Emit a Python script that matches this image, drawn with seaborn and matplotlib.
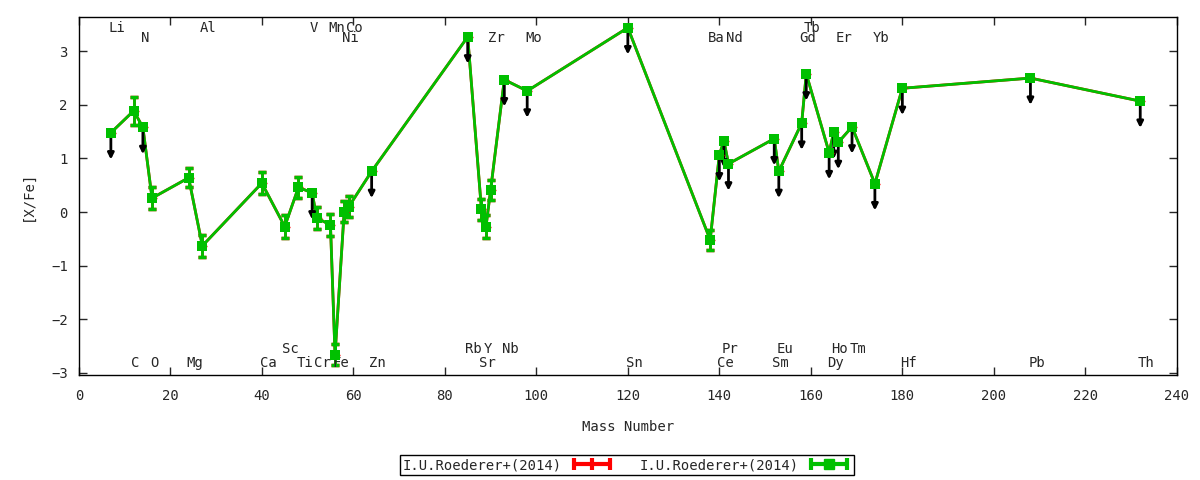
import matplotlib
matplotlib.use('Agg')
import matplotlib.pyplot as plt
import seaborn as sns
from matplotlib.lines import Line2D
from matplotlib.legend_handler import HandlerLine2D

# abundances, sorted by mass number
elements = ['Li', 'C', 'N', 'O', 'Mg', 'Al', 'Ca', 'Sc', 'Ti', 'V', 'Cr', 'Mn', 'Fe',
            'Ni', 'Co', 'Zn', 'Rb', 'Sr', 'Y', 'Zr', 'Nb', 'Mo', 'Sn', 'Ba', 'Ce', 'Pr',
            'Nd', 'Sm', 'Eu', 'Gd', 'Tb', 'Dy', 'Ho', 'Er', 'Tm', 'Yb', 'Hf', 'Pb', 'Th']
mass = [7, 12, 14, 16, 24, 27, 40, 45, 48, 51, 52, 55, 56,
        58, 59, 64, 85, 88, 89, 90, 93, 98, 120, 138, 140, 141,
        142, 152, 153, 158, 159, 164, 165, 166, 169, 174, 180, 208, 232]
x_fe = [1.48, 1.89, 1.58, 0.26, 0.64, -0.63, 0.54, -0.27, 0.46, 0.36, -0.11, -0.24, -2.66,
        0.01, 0.10, 0.76, 3.27, 0.05, -0.27, 0.41, 2.47, 2.26, 3.44, -0.52, 1.07, 1.33,
        0.90, 1.37, 0.76, 1.66, 2.58, 1.11, 1.49, 1.30, 1.59, 0.53, 2.31, 2.50, 2.07]
err = [0, 0.26, 0, 0.20, 0.18, 0.20, 0.21, 0.21, 0.20, 0, 0.20, 0.20, 0.19,
       0.20, 0.20, 0, 0, 0.20, 0.22, 0.19, 0, 0, 0, 0.19, 0, 0,
       0, 0, 0, 0, 0, 0, 0, 0, 0, 0, 0, 0, 0]
upper_limit = ['Li', 'N', 'V', 'Zn', 'Rb', 'Nb', 'Mo', 'Sn', 'Ce', 'Pr', 'Nd', 'Sm', 'Eu',
               'Gd', 'Tb', 'Dy', 'Ho', 'Er', 'Tm', 'Yb', 'Hf', 'Pb', 'Th']

# which label row each element name goes in
label_row = {
    'top1': ['Li', 'Al', 'V', 'Mn', 'Co', 'Tb'],
    'top2': ['N', 'Ni', 'Zr', 'Mo', 'Ba', 'Nd', 'Gd', 'Er', 'Yb'],
    'bot2': ['Sc', 'Rb', 'Y', 'Nb', 'Pr', 'Eu', 'Ho', 'Tm'],
    'bot1': ['C', 'O', 'Mg', 'Ca', 'Ti', 'Cr', 'Fe', 'Zn', 'Sr', 'Sn', 'Ce', 'Sm', 'Dy',
             'Hf', 'Pb', 'Th'],
}
row_y = {'top1': 3.44, 'top2': 3.25, 'bot2': -2.56, 'bot1': -2.82}

legend_label = 'I.U.Roederer+(2014)'
GREEN = '#00c000'
RED = '#ff0000'

sns.set_style('ticks')
plt.rcParams['font.family'] = ['DejaVu Sans Mono']
plt.rcParams['font.size'] = 10

fig, ax = plt.subplots(figsize=(12, 4.8), dpi=100)
fig.subplots_adjust(left=0.0657, right=0.9807, top=0.9646, bottom=0.2188)

# red series (sits underneath the green one)
ax.errorbar(mass, x_fe, yerr=err, color=RED, lw=2, capsize=3, capthick=2.5, zorder=1)
ax.plot(mass, x_fe, ls='none', marker='_', ms=7.8, mew=1, color=RED, zorder=3.9)

# green series
sns.lineplot(x=mass, y=x_fe, sort=False, color=GREEN, lw=2, ax=ax, zorder=2)
ax.errorbar(mass, x_fe, yerr=err, fmt='none', ecolor=GREEN, elinewidth=2,
            capsize=3, capthick=2.5, zorder=3)
sns.scatterplot(x=mass, y=x_fe, marker='s', s=52, color=GREEN, edgecolor=GREEN,
                linewidth=0, ax=ax, zorder=4, legend=False)

# upper limit arrows
for el, m, v in zip(elements, mass, x_fe):
    if el in upper_limit:
        ax.annotate('', xy=(m, v - 0.5), xytext=(m, v),
                    arrowprops=dict(arrowstyle='-|>', color='black', lw=2,
                                    mutation_scale=9, shrinkA=0, shrinkB=0),
                    zorder=3.5)

# element names
for row, names in label_row.items():
    for el in names:
        m = mass[elements.index(el)]
        ax.text(m - 0.5, row_y[row], el, ha='left', va='center', fontsize=10)

ax.set_xlim(0, 240)
ax.set_ylim(-3.04, 3.64)
ax.set_xticks(range(0, 241, 20))
ax.set_yticks(range(-3, 4))
ax.tick_params(direction='in', top=True, right=True, length=6, width=1, labelsize=10)
ax.tick_params(axis='x', pad=10)
ax.tick_params(axis='y', pad=8)
for s in ax.spines.values():
    s.set_linewidth(1)
    s.set_color('black')
ax.set_xlabel('Mass Number', fontsize=10, labelpad=12)
ax.set_ylabel('[X/Fe]', fontsize=10, labelpad=12)

# legend: text first, then an errorbar sample
red_caps = Line2D([], [], color=RED, lw=3, marker='|', ms=8, mew=3)
red_mid = Line2D([], [], color=RED, lw=0, marker='|', ms=8, mew=3)
green_caps = Line2D([], [], color=GREEN, lw=3, marker='|', ms=8, mew=3)
green_mid = Line2D([], [], color=GREEN, lw=0, marker='s', ms=7)
fig.legend([(red_caps, red_mid), (green_caps, green_mid)], [legend_label, legend_label],
           handler_map={red_caps: HandlerLine2D(numpoints=2), red_mid: HandlerLine2D(numpoints=1),
                        green_caps: HandlerLine2D(numpoints=2), green_mid: HandlerLine2D(numpoints=1)},
           loc='center', bbox_to_anchor=(0.5225, 0.031), ncol=2, markerfirst=False,
           frameon=True, fancybox=False, edgecolor='black', framealpha=1,
           handlelength=3.2, handletextpad=0.6, columnspacing=1.8,
           borderpad=0.2, borderaxespad=0, fontsize=10)

fig.savefig('out.png', dpi=100)
